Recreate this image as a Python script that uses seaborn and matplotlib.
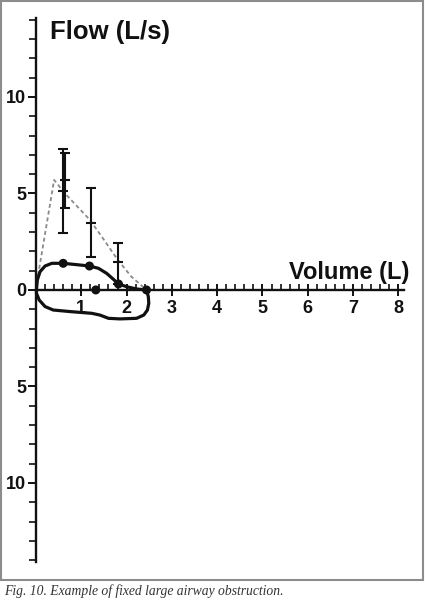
import numpy as np
import pandas as pd
import matplotlib
matplotlib.use("Agg")
import matplotlib.pyplot as plt
import seaborn as sns
from matplotlib.patches import Rectangle

# ---- data ----
loop_volume = [0.01, 0.03, 0.09, 0.20, 0.35, 0.60, 0.90, 1.18, 1.38, 1.56, 1.71, 1.82, 2.00, 2.22, 2.44,
               2.48, 2.49, 2.46, 2.38, 2.22, 1.85, 1.60, 1.41, 1.23, 0.75, 0.38, 0.20, 0.07, 0.01, 0.01]
loop_flow = [0.00, 0.52, 0.95, 1.24, 1.38, 1.38, 1.31, 1.24, 1.12, 0.86, 0.55, 0.31, 0.17, 0.05, 0.00,
             -0.35, -0.69, -1.04, -1.30, -1.47, -1.50, -1.47, -1.30, -1.21, -1.12, -1.04, -0.86, -0.52, -0.17, 0.00]

dot_volume = [0.60, 1.18, 1.82, 2.44, 1.32]
dot_flow = [1.38, 1.24, 0.31, 0.00, 0.00]

pred_volume = [0.02, 0.40, 0.64, 1.19, 1.50, 1.78, 2.10, 2.44]
pred_flow = [0.40, 5.70, 5.00, 3.63, 2.60, 1.64, 0.70, 0.00]

eb_volume = [0.60, 0.63, 1.21, 1.82]
eb_mean = [5.13, 5.70, 3.49, 1.47]
eb_low = [2.94, 4.23, 1.69, 0.30]
eb_high = [7.31, 7.11, 5.30, 2.42]

x_major = [1, 2, 3, 4, 5, 6, 7, 8]
y_major = [-10, -5, 0, 5, 10]
y_labels = ["10", "5", "0", "5", "10"]

# ---- figure ----
sns.set_style("white")
plt.rcParams["font.family"] = ["Liberation Sans", "DejaVu Sans"]

W, H = 425, 601
fig = plt.figure(figsize=(W / 100, H / 100), dpi=100)
ax = fig.add_axes([36 / W, 38.9 / H, 367.8 / W, 544.3 / H])
ax.set_xlim(0, 8.12)
ax.set_ylim(-14.1, 14.1)
ax.set_facecolor("none")

loop = pd.DataFrame({"v": loop_volume, "f": loop_flow})
pred = pd.DataFrame({"v": pred_volume, "f": pred_flow})
dots = pd.DataFrame({"v": dot_volume, "f": dot_flow})

sns.lineplot(data=pred, x="v", y="f", sort=False, estimator=None, ax=ax, color="#8a8a8a",
             linewidth=1.3, linestyle=(0, (2.2, 1.6)), clip_on=False, zorder=2)
sns.lineplot(data=loop, x="v", y="f", sort=False, estimator=None, ax=ax, color="#111111",
             linewidth=2.3, clip_on=False, zorder=3, solid_capstyle="round", solid_joinstyle="round")
sns.scatterplot(data=dots, x="v", y="f", ax=ax, color="#111111", s=42,
                edgecolor="none", clip_on=False, zorder=5)

yerr = [np.array(eb_mean) - np.array(eb_low), np.array(eb_high) - np.array(eb_mean)]
ax.errorbar(eb_volume, eb_mean, yerr=yerr, fmt="_", color="#111111", ecolor="#111111",
            elinewidth=1.5, capsize=3.5, capthick=1.5, markersize=7, markeredgewidth=1.5,
            zorder=4, clip_on=False)

# ---- axes styling ----
for s in ["top", "right"]:
    ax.spines[s].set_visible(False)
ax.spines["bottom"].set_position(("data", 0))
ax.spines["left"].set_linewidth(1.7)
ax.spines["bottom"].set_linewidth(1.7)
ax.spines["left"].set_color("#111111")
ax.spines["bottom"].set_color("#111111")

ax.set_xticks(x_major)
ax.set_xticklabels([str(v) for v in x_major])
ax.set_xticks(np.arange(0.2, 8.05, 0.2), minor=True)
ax.set_yticks(y_major)
ax.set_yticklabels(y_labels)
ax.set_yticks(np.arange(-14, 15, 1), minor=True)

ax.tick_params(axis="x", which="both", bottom=True, top=False)
ax.tick_params(axis="y", which="both", left=True, right=False)
ax.tick_params(axis="x", which="major", direction="inout", length=9, width=1.4,
               color="#111111", pad=3, labelsize=13)
ax.tick_params(axis="x", which="minor", direction="in", length=4, width=1.2, color="#111111")
ax.tick_params(axis="y", which="major", direction="out", length=6, width=1.4,
               color="#111111", pad=1, labelsize=13)
ax.tick_params(axis="y", which="minor", direction="out", length=5, width=1.2, color="#111111")
for lab in ax.get_xticklabels() + ax.get_yticklabels():
    lab.set_fontweight("bold")
    lab.set_color("#111111")
ax.set_xlabel("")
ax.set_ylabel("")

fig.text(50 / W, 1 - 38.5 / H, "Flow (L/s)", fontsize=18.5, fontweight="bold",
         color="#111111", ha="left", va="baseline")
fig.text(289 / W, 1 - 278.5 / H, "Volume (L)", fontsize=17, fontweight="bold",
         color="#111111", ha="left", va="baseline")

fig.text(4 / W, 1 - 595 / H, "Fig. 10. Example of fixed large airway obstruction.",
         fontsize=9.8, style="italic", family=["Liberation Serif", "DejaVu Serif"],
         color="#333333", ha="left", va="baseline")

# border frame
fig.patches.append(Rectangle((0.5 / W, 1 - 580 / H), 422.5 / W, 579 / H,
                             transform=fig.transFigure, fill=False,
                             edgecolor="#8c8c8c", linewidth=1.5))

fig.savefig("out.png", dpi=100)
